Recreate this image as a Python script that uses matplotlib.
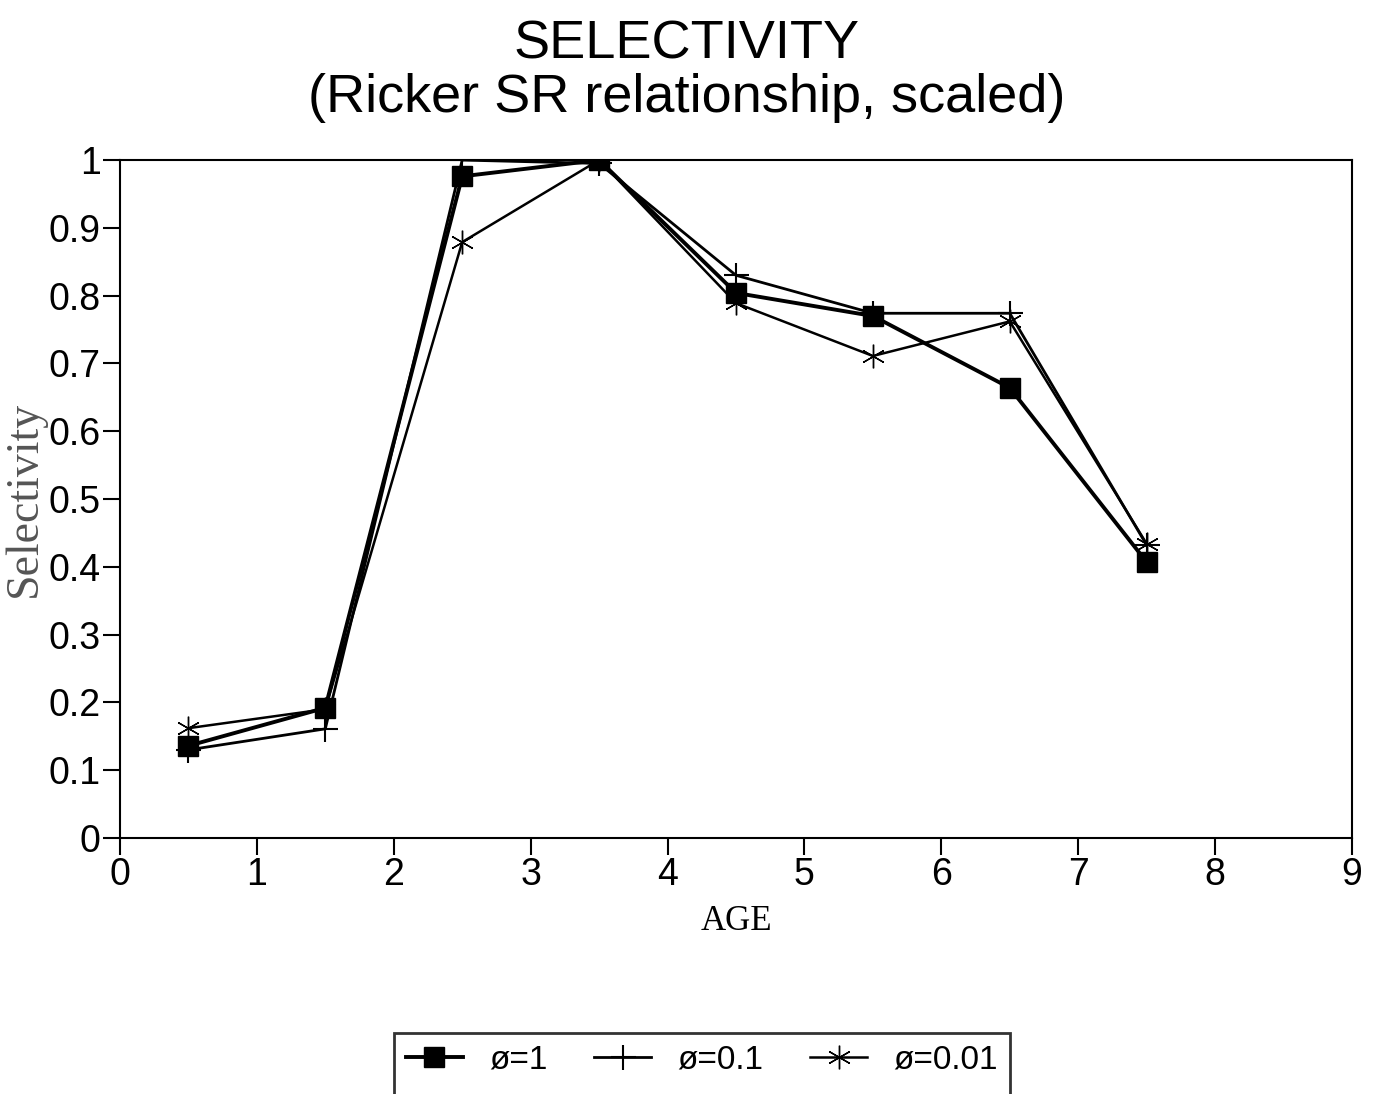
import matplotlib.pyplot as plt
from matplotlib.lines import Line2D

age = [0.5, 1.5, 2.5, 3.5, 4.5, 5.5, 6.5, 7.5]
sel_phi1 = [0.136, 0.192, 0.976, 1.0, 0.804, 0.770, 0.664, 0.407]
sel_phi01 = [0.130, 0.161, 1.0, 0.995, 0.830, 0.774, 0.774, 0.432]
sel_phi001 = [0.162, 0.190, 0.879, 1.0, 0.789, 0.711, 0.762, 0.434]

xticks = list(range(0, 10))
yticks = [0, 0.1, 0.2, 0.3, 0.4, 0.5, 0.6, 0.7, 0.8, 0.9, 1]
ytick_labels = ["0", "0.1", "0.2", "0.3", "0.4", "0.5", "0.6", "0.7", "0.8", "0.9", "1"]

plt.rcParams['font.family'] = ['Liberation Sans', 'DejaVu Sans']

fig = plt.figure(figsize=(13.74, 10.94), dpi=100)
ax = fig.add_axes([0.0873, 0.234, 0.8967, 0.6197])

l1, = ax.plot(age, sel_phi1, color='black', lw=2.8, marker='s', ms=15, label='ø=1', zorder=3)
l2, = ax.plot(age, sel_phi01, color='black', lw=2.0, marker='+', ms=18, mew=1.5, label='ø=0.1', zorder=2)
l3, = ax.plot(age, sel_phi001, color='black', lw=1.8, marker=(6, 2, 0), ms=17, mew=1.0, label='ø=0.01', zorder=2)

ax.set_xlim(0, 9)
ax.set_ylim(0, 1)
ax.set_xticks(xticks)
ax.set_yticks(yticks)
ax.set_yticklabels(ytick_labels)
ax.tick_params(direction='out', length=12, width=1.5, labelsize=27, pad=2)
for s in ax.spines.values():
    s.set_linewidth(1.5)

ax.set_xlabel("AGE", family='Liberation Serif', fontsize=25, labelpad=8)
ax.set_ylabel("Selectivity", family='Liberation Serif', fontsize=33, color='#555555', labelpad=2)

fig.suptitle("SELECTIVITY\n(Ricker SR relationship, scaled)", fontsize=39, y=0.982,
             linespacing=1.08)

# empty second row so the legend box runs off the bottom edge like the scan
blank = Line2D([], [], color='none')
leg = fig.legend([l1, blank, l2, blank, l3, blank],
                 ['ø=1', ' ', 'ø=0.1', ' ', 'ø=0.01', ' '],
                 loc='upper center', bbox_to_anchor=(0.511, 0.0558), ncol=3,
                 fontsize=24, frameon=True, fancybox=False, edgecolor='black',
                 handlelength=1.7, columnspacing=1.4, borderpad=0.35, handletextpad=0.8,
                 borderaxespad=0)
leg.get_frame().set_linewidth(2)

fig.savefig("out.png", dpi=100)
